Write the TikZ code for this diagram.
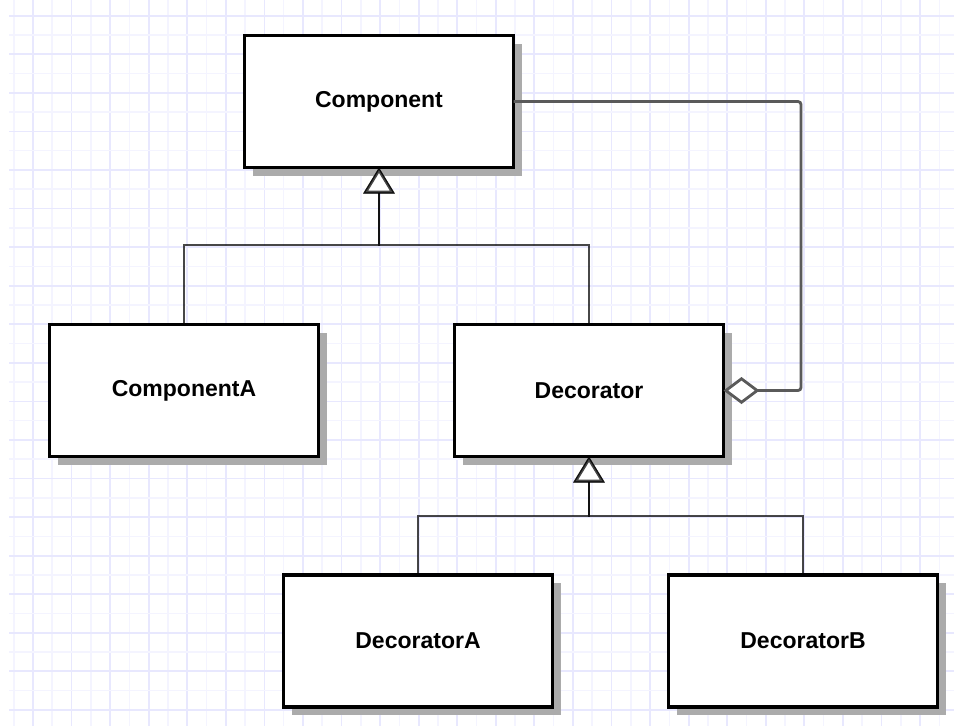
\documentclass[tikz,border=0pt]{standalone}
\usepackage{fontspec}
\setmainfont{Liberation Sans}
\usetikzlibrary{arrows.meta,shadows}
\definecolor{gridminor}{RGB}{244,244,255}
\definecolor{gridmajor}{RGB}{232,232,254}
\definecolor{conn}{RGB}{90,90,90}
\tikzset{
  umlbox/.style={draw=black, line width=3.5pt, fill=white, rectangle,
    minimum width=269pt, minimum height=132pt, inner sep=0pt, outer sep=0pt,
    font=\fontsize{23}{27}\selectfont\bfseries,
    drop shadow={shadow xshift=8pt, shadow yshift=-8pt, fill=black!33, opacity=1}},
  inh/.style={draw=black, draw opacity=0.72, line width=2.8pt,
    -{Triangle[open, fill=white, width=31pt, length=26pt, line width=2.8pt]}},
  agg/.style={draw=conn, line width=2.8pt, rounded corners=3pt,
    -{Diamond[open, fill=white, width=27pt, length=36pt, line width=2.8pt]}}
}
\begin{document}
\begin{tikzpicture}[x=1pt,y=-1pt]
\useasboundingbox (0,0) rectangle (954,726);
\fill[white] (0,0) rectangle (954,726);
% grid
\foreach \k in {0,...,48}{
  \pgfmathsetmacro{\xx}{13.7+19.285*\k}
  \pgfmathtruncatemacro{\odd}{mod(\k,2)}
  \ifnum\odd=1
    \draw[gridmajor, line width=1.8pt] (\xx,0) -- (\xx,726);
  \else
    \draw[gridminor, line width=1.6pt] (\xx,0) -- (\xx,726);
  \fi
}
\foreach \k in {0,...,37}{
  \pgfmathsetmacro{\yy}{15.7+19.285*\k}
  \pgfmathtruncatemacro{\odd}{mod(\k,2)}
  \ifnum\odd=0
    \draw[gridmajor, line width=1.8pt] (9,\yy) -- (954,\yy);
  \else
    \draw[gridminor, line width=1.6pt] (9,\yy) -- (954,\yy);
  \fi
}
% boxes
\node[umlbox] (comp) at (379,101.5) {Component};
\node[umlbox] (ca) at (184,390.5) {ComponentA};
\node[umlbox] (dec) at (589,390.5) {Decorator};
\node[umlbox] (da) at (418,641) {DecoratorA};
\node[umlbox] (db) at (803,641) {DecoratorB};
% junctions
\coordinate (j1) at (379,245);
\coordinate (j2) at (589,516);
\coordinate (c1) at (801,245);
% connectors
\draw[inh] (ca.north) |- (j1) -- (comp.south);
\draw[inh] (dec.north) |- (j1) -- (comp.south);
\draw[inh] (da.north) |- (j2) -- (dec.south);
\draw[inh] (db.north) |- (j2) -- (dec.south);
\draw[agg] (comp.east) -| (c1) |- (dec.east);
\end{tikzpicture}
\end{document}
